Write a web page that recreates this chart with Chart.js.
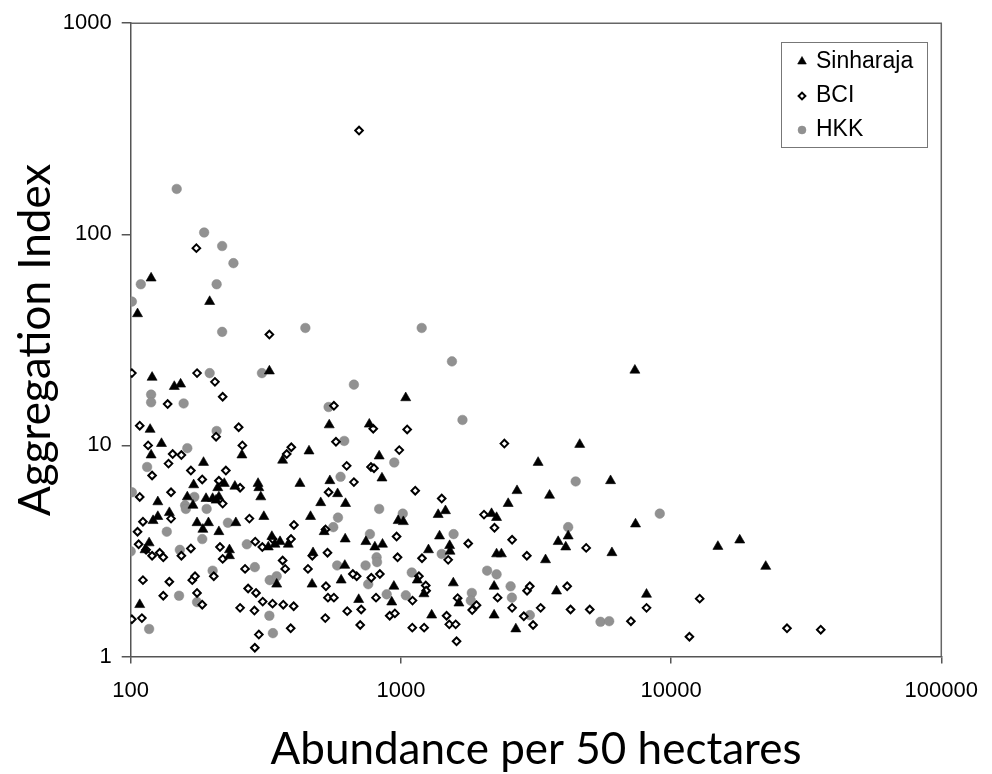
<!DOCTYPE html>
<html>
<head>
<meta charset="utf-8">
<title>Aggregation Index vs Abundance</title>
<script src="https://cdn.jsdelivr.net/npm/chart.js@4/dist/chart.umd.min.js"></script>
<style>
  html, body { margin: 0; padding: 0; background: #fff; }
  canvas { display: block; }
</style>
</head>
<body>
<canvas id="aggChart" width="992" height="774"></canvas>
<script>
const xTicks = [100, 1000, 10000, 100000];
const yTicks = [1, 10, 100, 1000];

// [abundance per 50 ha, aggregation index]
const sinharaja = [
  [119, 62], [196, 48], [106, 42],
  [120, 21], [145, 19], [153, 19.5], [326, 22.5], [118, 11.9], [543, 12.5], [764, 12.6],
  [130, 10.2], [119, 9], [258, 9], [186, 8.3], [171, 6.5], [222, 6.6], [210, 6.3], [243, 6.4],
  [162, 5.7], [190, 5.6], [201, 5.6], [212, 5.7], [126, 5.4], [170, 5.2], [207, 5.5],
  [121, 4.4], [126, 4.6], [139, 4.8], [176, 4.3], [194, 4.3], [245, 4.3], [185, 4.0], [212, 3.9],
  [117, 3.45], [113, 3.2], [232, 3.2], [232, 3.0], [108, 1.76], [296, 6.6], [298, 6.3], [303, 5.7],
  [311, 4.6], [333, 3.7], [323, 3.3], [342, 3.4], [357, 3.5], [383, 3.4], [347, 2.2], [365, 8.5],
  [423, 6.6], [457, 9.4], [463, 4.6], [505, 5.35], [546, 6.8], [583, 5.9], [624, 5.3], [622, 3.6],
  [520, 3.9], [473, 3.1], [469, 2.2], [620, 2.7], [601, 2.3], [698, 1.86], [742, 3.5], [801, 3.3],
  [855, 3.4], [831, 8.9], [851, 7.0], [942, 2.15], [925, 1.81], [977, 4.4],
  [7345, 22.7], [1042, 16.8], [4590, 10.1], [3220, 8.3], [5970, 6.8], [2690, 6.1], [3550, 5.8],
  [2495, 5.3], [1021, 4.35], [1374, 4.7], [1462, 4.9], [2165, 4.75], [2260, 4.55], [1390, 3.72],
  [1265, 3.2], [1515, 3.35], [1520, 3.15], [2260, 3.06], [2355, 3.06], [3430, 2.87], [3820, 3.5],
  [4160, 3.72], [4075, 3.3], [6040, 3.1], [7385, 4.24], [1150, 2.3], [1217, 1.98], [1563, 2.23],
  [1640, 1.79], [1300, 1.57], [2213, 2.15], [2213, 1.57], [2663, 1.35], [3767, 2.04], [8110, 1.97],
  [14900, 3.32], [17950, 3.56], [22400, 2.67]
];

const bci = [
  [700, 310], [175, 86], [326, 33.5],
  [101, 22], [176, 22], [205, 20], [219, 17], [137, 15.7], [565, 15.4], [108, 12.4], [207, 11],
  [251, 12.2], [575, 10.4], [790, 12], [116, 10], [143, 9.1], [154, 9], [138, 8.2], [259, 10],
  [120, 7.2], [167, 7.6], [184, 6.9], [225, 7.6], [212, 6.8], [254, 6.3], [108, 5.7], [141, 6],
  [219, 5.3], [111, 4.35], [141, 4.5], [106, 3.9], [107, 3.4], [114, 3.2], [120, 3.0], [128, 3.1],
  [132, 2.95], [154, 3.0], [167, 3.25], [214, 3.3], [219, 2.9], [111, 2.3], [139, 2.26], [132, 1.94],
  [169, 2.3], [173, 2.4], [203, 2.4], [176, 2.0], [184, 1.76], [101, 1.5], [110, 1.52], [265, 2.6],
  [275, 4.5], [289, 3.5], [307, 3.3], [335, 3.6], [392, 3.6], [365, 2.85], [373, 2.6], [272, 2.1],
  [291, 2.0], [308, 1.82], [335, 1.78], [367, 1.76], [401, 1.73], [254, 1.7], [287, 1.65],
  [298, 1.27], [288, 1.1], [391, 1.36], [402, 4.2], [378, 9.1], [393, 9.8], [540, 6], [630, 8],
  [670, 6.7], [526, 4.0], [535, 3.1], [470, 3.0], [453, 2.6], [528, 2.15], [537, 1.9], [565, 1.9],
  [525, 1.52], [633, 1.64], [713, 1.67], [707, 1.41], [686, 2.4], [664, 2.46], [777, 2.36],
  [836, 2.46], [775, 7.9], [795, 7.8], [986, 9.5], [809, 1.9], [909, 1.56], [950, 1.6], [964, 3.7],
  [972, 2.95],
  [1055, 11.9], [2415, 10.2], [1130, 6.1], [1416, 5.6], [2030, 4.7], [2220, 4.07], [1197, 2.92],
  [1496, 2.87], [1775, 3.43], [2580, 3.57], [2925, 3.0], [4850, 3.27], [1166, 2.4], [1236, 2.17],
  [1240, 2.05], [1104, 1.84], [1622, 1.89], [1905, 1.75], [1836, 1.66], [1476, 1.56], [1510, 1.42],
  [1595, 1.42], [1102, 1.37], [1219, 1.37], [1607, 1.18], [2280, 1.9], [2580, 1.7], [2850, 1.55],
  [3085, 1.41], [2930, 2.05], [3000, 2.15], [3290, 1.7], [4125, 2.15], [4245, 1.67], [5000, 1.67],
  [7100, 1.47], [8110, 1.7],
  [12760, 1.88], [11690, 1.24], [26850, 1.36], [35800, 1.34]
];

const hkk = [
  [148, 164], [187, 102], [218, 88], [240, 73], [109, 58], [208, 58], [101, 48], [218, 34.5],
  [443, 36],
  [119, 17.4], [119, 16], [196, 22], [157, 15.8], [306, 22], [670, 19.4], [540, 15.2], [617, 10.5],
  [208, 11.7], [162, 9.7], [115, 7.9], [101, 6], [172, 5.7], [159, 5.2], [160, 5], [191, 5],
  [136, 3.9], [229, 4.3], [100, 3.15], [152, 3.2], [184, 3.6], [151, 1.94], [201, 2.55], [176, 1.81],
  [117, 1.35], [269, 3.4], [288, 2.65], [327, 2.3], [347, 2.4], [326, 1.56], [336, 1.29], [598, 7.1],
  [585, 4.55], [562, 4.1], [581, 2.7], [740, 2.7], [757, 2.2], [813, 2.95], [816, 2.8], [768, 3.8],
  [831, 5], [945, 8.3], [886, 1.97],
  [1194, 36], [1545, 25], [1690, 13.2], [4435, 6.75], [1016, 4.75], [1567, 3.8], [1416, 3.06],
  [4160, 4.1], [9080, 4.75], [1097, 2.5], [1043, 1.95], [1830, 2.0], [1815, 1.84], [2085, 2.55],
  [2260, 2.45], [2547, 2.15], [2575, 1.9], [3000, 1.57], [5480, 1.46], [5900, 1.47]
];

const toPoints = (pairs) => pairs.map(([x, y]) => ({ x, y }));

const labelFont = "'Liberation Sans', Arial, sans-serif";
const titleFont = "Lato, 'Open Sans', sans-serif";
const axisColor = "#555";

// box around the plot (left/bottom come from the axes, this adds top/right)
const plotFrame = {
  id: "plotFrame",
  afterDatasetsDraw(chart) {
    const { ctx, chartArea: a } = chart;
    ctx.save();
    ctx.strokeStyle = "#666";
    ctx.lineWidth = 1.5;
    ctx.beginPath();
    ctx.moveTo(a.left, a.top);
    ctx.lineTo(a.right, a.top);
    ctx.lineTo(a.right, a.bottom);
    ctx.stroke();
    ctx.restore();
  },
};

// boxed legend in the upper right corner
const boxLegend = {
  id: "boxLegend",
  afterDraw(chart) {
    const { ctx } = chart;
    const left = 781, top = 42, w = 146, h = 105;
    ctx.save();
    ctx.fillStyle = "#fff";
    ctx.fillRect(left, top, w, h);
    ctx.strokeStyle = "#777";
    ctx.lineWidth = 1;
    ctx.strokeRect(left + 0.5, top + 0.5, w, h);
    const rows = [61.5, 96, 130];
    chart.data.datasets.forEach((ds, i) => {
      const y = rows[i];
      ctx.fillStyle = ds.backgroundColor;
      ctx.strokeStyle = ds.borderColor;
      ctx.lineWidth = ds.borderWidth;
      Chart.helpers.drawPoint(ctx, {
        pointStyle: ds.pointStyle,
        radius: ds.legendRadius,
        rotation: 0,
        borderWidth: ds.borderWidth,
      }, 802, y);
      ctx.fillStyle = "#000";
      ctx.font = "23px " + labelFont;
      ctx.textBaseline = "middle";
      ctx.textAlign = "left";
      ctx.fillText(ds.label, 816, y);
    });
    ctx.restore();
  },
};

new Chart(document.getElementById("aggChart"), {
  type: "scatter",
  data: {
    datasets: [
      {
        label: "Sinharaja",
        data: toPoints(sinharaja),
        pointStyle: "triangle",
        pointRadius: 5.8,
        legendRadius: 5,
        backgroundColor: "#000",
        borderColor: "#000",
        borderWidth: 0.6,
      },
      {
        label: "BCI",
        data: toPoints(bci),
        pointStyle: "rectRot",
        pointRadius: 3.8,
        legendRadius: 3.4,
        backgroundColor: "#fff",
        borderColor: "#000",
        borderWidth: 2,
      },
      {
        label: "HKK",
        data: toPoints(hkk),
        pointStyle: "circle",
        pointRadius: 4.8,
        legendRadius: 4,
        backgroundColor: "#919191",
        borderColor: "#888",
        borderWidth: 0.5,
      },
    ],
  },
  options: {
    responsive: false,
    animation: false,
    layout: { padding: { top: 19, right: 50.3, bottom: 0, left: 0 } },
    plugins: {
      legend: { display: false },
      tooltip: { enabled: false },
    },
    scales: {
      x: {
        type: "logarithmic",
        min: 100,
        max: 100000,
        afterBuildTicks: (axis) => {
          axis.ticks = xTicks.map((v) => ({ value: v }));
        },
        afterFit: (axis) => {
          axis.height = 117.5;
        },
        ticks: {
          callback: (v) => String(v),
          color: "#000",
          font: { family: labelFont, size: 22 },
          padding: 14,
          maxRotation: 0,
        },
        grid: { drawOnChartArea: false, tickLength: 7, color: axisColor, lineWidth: 1.5 },
        border: { color: axisColor, width: 1.5 },
        title: {
          display: true,
          text: "Abundance per 50 hectares",
          color: "#000",
          font: { family: titleFont, size: 44, lineHeight: 1 },
          padding: { top: 0, bottom: 2 },
        },
      },
      y: {
        type: "logarithmic",
        min: 1,
        max: 1000,
        afterBuildTicks: (axis) => {
          axis.ticks = yTicks.map((v) => ({ value: v }));
        },
        afterFit: (axis) => {
          axis.width = 130.7;
        },
        ticks: {
          callback: (v) => String(v),
          color: "#000",
          font: { family: labelFont, size: 22 },
          padding: 10,
        },
        grid: { drawOnChartArea: false, tickLength: 9, color: axisColor, lineWidth: 1.5 },
        border: { color: axisColor, width: 1.5 },
        title: {
          display: true,
          text: "Aggregation Index",
          color: "#000",
          font: { family: titleFont, size: 44, lineHeight: 1 },
          padding: { top: 14, bottom: 0 },
        },
      },
    },
  },
  plugins: [plotFrame, boxLegend],
});
</script>
</body>
</html>
